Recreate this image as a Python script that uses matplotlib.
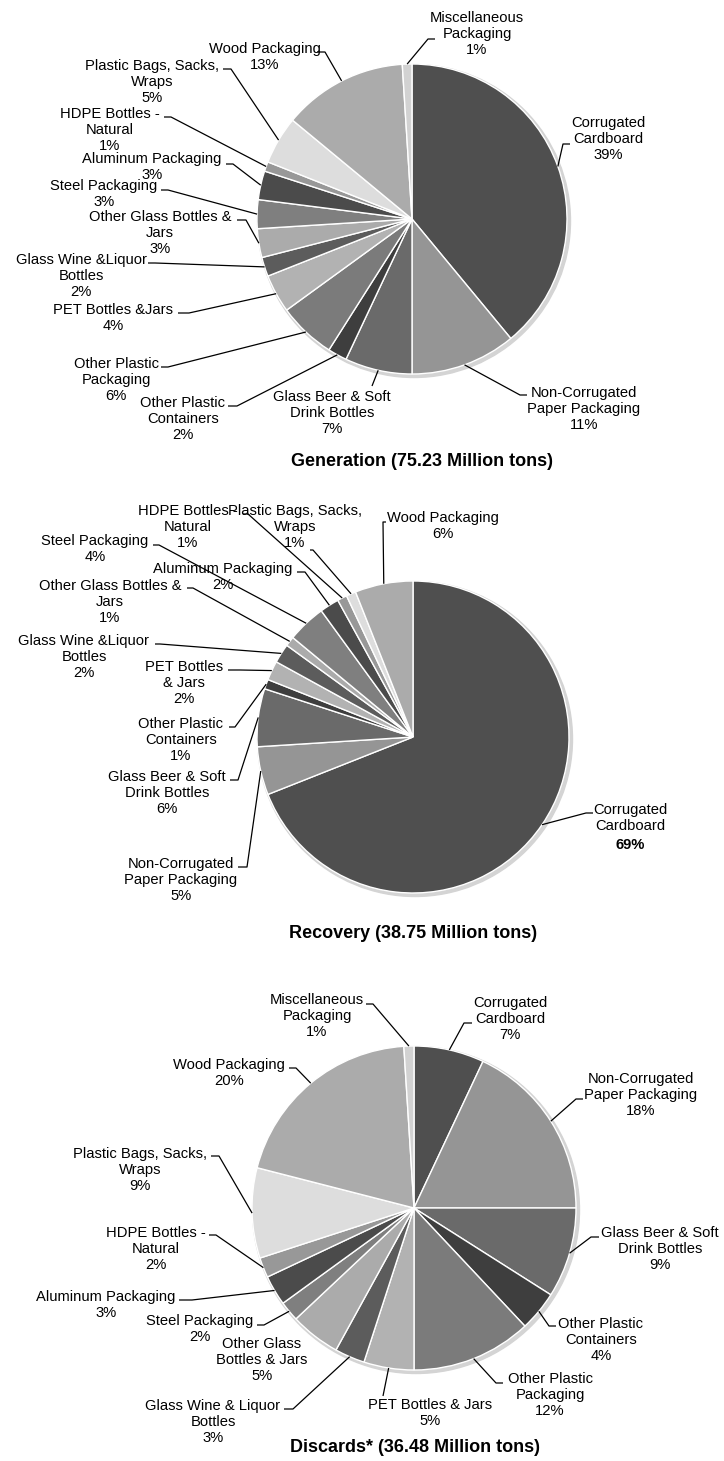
import matplotlib
matplotlib.use("Agg")
import numpy as np
import matplotlib.pyplot as plt
from matplotlib.patches import Circle

# ---- data ----
gen_cats = ["Corrugated Cardboard", "Non-Corrugated Paper Packaging",
            "Glass Beer & Soft Drink Bottles", "Other Plastic Containers",
            "Other Plastic Packaging", "PET Bottles & Jars",
            "Glass Wine & Liquor Bottles", "Other Glass Bottles & Jars",
            "Steel Packaging", "Aluminum Packaging", "HDPE Bottles - Natural",
            "Plastic Bags, Sacks, Wraps", "Wood Packaging",
            "Miscellaneous Packaging"]
gen_values = [39, 11, 7, 2, 6, 4, 2, 3, 3, 3, 1, 5, 13, 1]
gen_text = ["Corrugated\nCardboard", "Non-Corrugated\nPaper Packaging",
            "Glass Beer & Soft\nDrink Bottles", "Other Plastic\nContainers",
            "Other Plastic\nPackaging", "PET Bottles &Jars",
            "Glass Wine &Liquor\nBottles", "Other Glass Bottles &\nJars",
            "Steel Packaging", "Aluminum Packaging", "HDPE Bottles -\nNatural",
            "Plastic Bags, Sacks,\nWraps", "Wood Packaging",
            "Miscellaneous\nPackaging"]

rec_cats = ["Corrugated Cardboard", "Non-Corrugated Paper Packaging",
            "Glass Beer & Soft Drink Bottles", "Other Plastic Containers",
            "PET Bottles & Jars", "Glass Wine & Liquor Bottles",
            "Other Glass Bottles & Jars", "Steel Packaging",
            "Aluminum Packaging", "HDPE Bottles - Natural",
            "Plastic Bags, Sacks, Wraps", "Wood Packaging"]
rec_values = [69, 5, 6, 1, 2, 2, 1, 4, 2, 1, 1, 6]
rec_text = ["Corrugated\nCardboard", "Non-Corrugated\nPaper Packaging",
            "Glass Beer & Soft\nDrink Bottles", "Other Plastic\nContainers",
            "PET Bottles\n& Jars", "Glass Wine &Liquor\nBottles",
            "Other Glass Bottles &\nJars", "Steel Packaging",
            "Aluminum Packaging", "HDPE Bottles -\nNatural",
            "Plastic Bags, Sacks,\nWraps", "Wood Packaging"]

dis_cats = gen_cats
dis_values = [7, 18, 9, 4, 12, 5, 3, 5, 2, 3, 2, 9, 20, 1]
dis_text = ["Corrugated\nCardboard", "Non-Corrugated\nPaper Packaging",
            "Glass Beer & Soft\nDrink Bottles", "Other Plastic\nContainers",
            "Other Plastic\nPackaging", "PET Bottles & Jars",
            "Glass Wine & Liquor\nBottles", "Other Glass\nBottles & Jars",
            "Steel Packaging", "Aluminum Packaging", "HDPE Bottles -\nNatural",
            "Plastic Bags, Sacks,\nWraps", "Wood Packaging",
            "Miscellaneous\nPackaging"]

titles = ["Generation (75.23 Million tons)", "Recovery (38.75 Million tons)",
          "Discards* (36.48 Million tons)"]

# ---- style ----
colors = {
    "Corrugated Cardboard": "#4f4f4f",
    "Non-Corrugated Paper Packaging": "#959595",
    "Glass Beer & Soft Drink Bottles": "#6a6a6a",
    "Other Plastic Containers": "#3e3e3e",
    "Other Plastic Packaging": "#7b7b7b",
    "PET Bottles & Jars": "#b2b2b2",
    "Glass Wine & Liquor Bottles": "#5c5c5c",
    "Other Glass Bottles & Jars": "#ababab",
    "Steel Packaging": "#7f7f7f",
    "Aluminum Packaging": "#4b4b4b",
    "HDPE Bottles - Natural": "#989898",
    "Plastic Bags, Sacks, Wraps": "#dddddd",
    "Wood Packaging": "#ababab",
    "Miscellaneous Packaging": "#d2d2d2",
}

W, H = 724, 1461
FONT = "Liberation Sans"
FS = 10.6
LS = 1.22


def fy(y):
    return H - y


# label layout in pixel coords: text centre, and leader hook (x0, x1, y) or None
gen_layout = [
    ((608, 139), (570, 563, 144)), ((584, 409), (527, 520, 395)),
    ((332, 413), (372, 372, 386)), ((183, 419), (228, 237, 406)),
    ((116, 380), (161, 168, 367)), ((113, 318), (178, 189, 313)),
    ((81, 276), (148, 155, 263)), ((160, 233), (237, 246, 220)),
    ((104, 194), (161, 168, 190)), ((152, 167), (226, 233, 164)),
    ((110, 130), (164, 171, 117)), ((152, 82), (223, 231, 69)),
    ((265, 57), (317, 325, 52)), ((477, 34), (435, 428, 39)),
]
rec_layout = [
    ((630, 827), (593, 586, 813)), ((181, 880), (238, 247, 867)),
    ((167, 793), (230, 238, 780)), ((181, 740), (229, 235, 727)),
    ((184, 683), (228, 240, 670)), ((84, 657), (155, 160, 644)),
    ((110, 602), (187, 193, 588)), ((95, 549), (153, 159, 545)),
    ((223, 577), (297, 305, 572)), ((188, 527), (243, 248, 514)),
    ((295, 527), (310, 313, 550)), ((443, 526), (386, 383, 522)),
]
dis_layout = [
    ((510, 1019), (472, 464, 1023)), ((641, 1095), (583, 576, 1099)),
    ((660, 1249), (599, 591, 1237)), ((601, 1340), (556, 549, 1326)),
    ((550, 1395), (503, 496, 1383)), ((430, 1413), (383, 383, 1396)),
    ((213, 1422), (284, 293, 1409)), ((262, 1360), None),
    ((200, 1329), (257, 264, 1325)), ((106, 1305), (179, 192, 1300)),
    ((156, 1249), (209, 216, 1235)), ((140, 1170), (211, 219, 1156)),
    ((229, 1073), (289, 296, 1068)), ((317, 1016), (366, 373, 1004)),
]

pies = [
    (gen_cats, gen_values, gen_text, gen_layout, (412, 219), 155, (422, 462)),
    (rec_cats, rec_values, rec_text, rec_layout, (413, 737), 156, (413, 934)),
    (dis_cats, dis_values, dis_text, dis_layout, (414, 1208), 162, (415, 1447)),
]

fig = plt.figure(figsize=(W / 100, H / 100), dpi=100)
ax = fig.add_axes([0, 0, 1, 1])

for k, (cats, vals, texts, layout, (cx, cy), r, (tx, ty)) in enumerate(pies):
    # soft shadow behind the pie
    ax.add_patch(Circle((cx + 2, fy(cy) - 2), r + 1.5, color="#d4d4d4", zorder=0))
    wedges, _ = ax.pie(vals, colors=[colors[c] for c in cats], startangle=90,
                       counterclock=False, center=(cx, fy(cy)), radius=r,
                       wedgeprops=dict(edgecolor="white", linewidth=1.0),
                       frame=True)
    for i, w in enumerate(wedges):
        (lx, ly), hook = layout[i]
        pct = f"{vals[i]}%"
        if k == 1 and i == 0:
            # the recovered cardboard share is set in bold
            ax.text(lx, fy(ly) + 9, texts[i], ha="center", va="center",
                    fontsize=FS, family=FONT, linespacing=LS, zorder=5)
            ax.text(lx, fy(ly) - 18, pct, ha="center", va="center",
                    fontsize=FS, family=FONT, weight="bold", zorder=5)
        else:
            ax.text(lx, fy(ly), texts[i] + "\n" + pct, ha="center", va="center",
                    fontsize=FS, family=FONT, linespacing=LS, zorder=5)
        if hook is None:
            continue
        mid = np.deg2rad((w.theta1 + w.theta2) / 2)
        ex = w.center[0] + w.r * np.cos(mid)
        ey = w.center[1] + w.r * np.sin(mid)
        x0, x1, hy = hook
        ax.plot([x0, x1, ex], [fy(hy), fy(hy), ey], color="black",
                linewidth=0.9, zorder=4, solid_capstyle="butt")
    ax.text(tx, fy(ty), titles[k], ha="center", va="center", fontsize=13,
            family=FONT, weight="bold")

ax.set_xlim(0, W)
ax.set_ylim(0, H)
ax.set_aspect("auto")
ax.axis("off")
fig.savefig("out.png", dpi=100, facecolor="white")
